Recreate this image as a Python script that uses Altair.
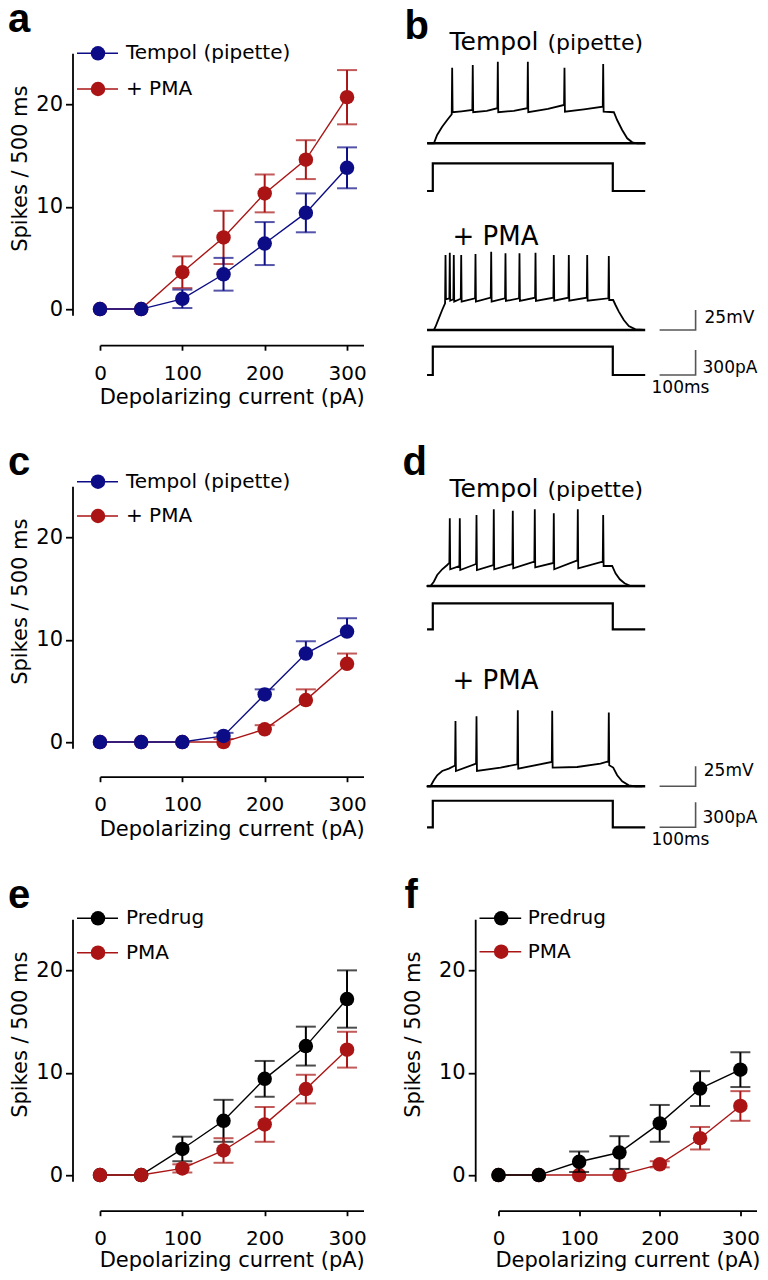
import altair as alt
import pandas as pd

FONT = "DejaVu Sans"
LETTER_FONT = "Liberation Sans"
BLUE = "#0c0c86"
RED = "#aa1414"
BLACK = "#000000"

# ---------------- values ----------------
CURRENT_PA = [0, 50, 100, 150, 200, 250, 300]
X_TICKS = [0, 100, 200, 300]
Y_TICKS = [0, 10, 20]
X_TITLE = "Depolarizing current (pA)"
Y_TITLE = "Spikes / 500 ms"

A_LABELS = ["Tempol (pipette)", "+ PMA"]
A_TEMPOL = [0, 0, 1.0, 3.4, 6.4, 9.4, 13.8]
A_TEMPOL_SEM = [0, 0, 0.9, 1.6, 2.1, 1.9, 2.0]
A_PMA = [0, 0, 3.6, 7.0, 11.3, 14.6, 20.7]
A_PMA_SEM = [0, 0, 1.55, 2.6, 1.85, 1.9, 2.65]

C_LABELS = ["Tempol (pipette)", "+ PMA"]
C_TEMPOL = [0, 0, 0, 0.6, 4.65, 8.65, 10.8]
C_TEMPOL_SEM = [0, 0, 0, 0.3, 0.5, 1.2, 1.3]
C_PMA = [0, 0, 0, 0, 1.25, 4.1, 7.65]
C_PMA_SEM = [0, 0, 0, 0.3, 0.4, 1.05, 1.0]

E_LABELS = ["Predrug", "PMA"]
E_PREDRUG = [0, 0, 2.55, 5.3, 9.4, 12.6, 17.2]
E_PREDRUG_SEM = [0, 0, 1.2, 2.05, 1.75, 1.9, 2.8]
E_PMA = [0, 0, 0.65, 2.4, 4.95, 8.4, 12.25]
E_PMA_SEM = [0, 0, 0.4, 1.2, 1.7, 1.4, 1.75]

F_LABELS = ["Predrug", "PMA"]
F_PREDRUG = [0, 0, 1.3, 2.2, 5.05, 8.45, 10.3]
F_PREDRUG_SEM = [0, 0, 1.0, 1.6, 1.8, 1.7, 1.7]
F_PMA = [0, 0, 0, 0, 1.05, 3.6, 6.75]
F_PMA_SEM = [0, 0, 0, 0, 0.3, 1.1, 1.45]

# current-clamp traces (ms, mV, pA)
REST_MV = -65
STEP_ON_MS, STEP_OFF_MS = 0, 500
TRACE_START_MS, TRACE_END_MS = -16, 590
TRACE_TITLE_1 = "Tempol"
TRACE_TITLE_1B = "(pipette)"
TRACE_TITLE_2 = "+ PMA"
SCALE_MS, SCALE_MV, SCALE_PA = 100, 25, 300
SCALE_LABELS = ["25mV", "300pA", "100ms"]

B_TOP_SHAPE_T = [-14, 3, 12, 26, 40, 80, 150, 225, 320, 420, 503, 512, 526, 540, 554, 568, 591]
B_TOP_SHAPE_V = [-65, -65, -54.6, -44.3, -35.9, -25, -24.5, -24.5, -22, -22.5, -26.2, -35.9, -48.4, -58.8, -63.8, -65, -65]
B_TOP_SPIKE_T = [53.8, 111, 180.6, 264, 365.8, 473.3]
B_TOP_SPIKE_PEAK = [29.5, 32.9, 37, 37, 29.5, 34.1]
B_TOP_SPIKE_PRE = [-28.7, -23.4, -21.2, -21.2, -17.1, -19.2]
B_TOP_SPIKE_POST = [-26.2, -26.2, -26.2, -26.2, -25.5, -25.5]

B_BOT_SHAPE_T = [-14, 3, 7.5, 16.7, 26, 501, 507.5, 516.7, 530.6, 544.4, 563, 586]
B_BOT_SHAPE_V = [-65, -65, -60.9, -50.4, -40, -27.5, -33.75, -42, -52.5, -60, -64.2, -65]
B_BOT_SPIKE_T = [35.3, 47.2, 58.3, 78.9, 118.6, 162.2, 201.9, 240.8, 285.3, 336.1, 377.8, 428.9, 488.9]
B_BOT_SPIKE_PEAK = [28.75, 31.6, 28.75, 28.75, 30, 32.9, 30.9, 30.9, 31.6, 28.75, 28.75, 28.75, 27.5]
B_BOT_SPIKE_PRE = [-31.6, -25.4, -26.6, -25.9, -25.4, -24.6, -25.4, -25.4, -24.6, -24.6, -24.6, -24.6, -25.4]
B_BOT_SPIKE_POST = [-26.6, -28.4, -29.6, -29.6, -29.6, -29.6, -28.75, -28.75, -28.75, -28.4, -28.4, -28.4, -27.5]

D_TOP_SHAPE_T = [-17.5, -6.4, 2.8, 12.2, 26.1, 40, 498.3, 507.5, 519.4, 532.5, 549.2, 586]
D_TOP_SHAPE_V = [-65, -65, -59.6, -51.25, -44.1, -38.75, -40, -49.1, -56.6, -61.6, -65, -65]
D_TOP_SPIKE_T = [47.2, 75, 121.4, 169.4, 222.2, 283.3, 336.1, 402.8, 473.3]
D_TOP_SPIKE_PEAK = [19.6, 19.6, 23.75, 30.9, 29.1, 30.9, 25.9, 30.9, 23.75]
D_TOP_SPIKE_PRE = [-35.9, -40, -37.5, -38.75, -37.5, -34.6, -36.25, -32.9, -34.6]
D_TOP_SPIKE_POST = [-44.1, -45, -45, -44.1, -42.9, -41.6, -44.1, -42.9, -40]

D_BOT_SHAPE_T = [-17.5, -6.4, 2.8, 12.2, 26.1, 44.5, 188, 401.1, 465.8, 501.1, 512.2, 526.1, 544.4, 563, 582]
D_BOT_SHAPE_V = [-65, -65, -57.5, -51.25, -45.9, -42.9, -41.6, -40.9, -36.6, -41.6, -51.25, -58.75, -63.75, -65, -65]
D_BOT_SPIKE_T = [63, 121.4, 236.1, 331.7, 488.9]
D_BOT_SPIKE_PEAK = [16.6, 22.5, 30, 29.4, 27.1]
D_BOT_SPIKE_PRE = [-39.1, -36.6, -37.5, -34.6, -33.75]
D_BOT_SPIKE_POST = [-45.9, -45.9, -42.9, -41.6, -38.75]

B_STEP_PA = [332, 340]
D_STEP_PA = [312, 319]

# ---------------- layout (pixels) ----------------
W1, WF, H = 263.5, 258, 262
ROW_SP, COL_SP = 171, 134.5
X_DOMAIN = [0, 320]
Y_DOMAIN = [-0.6, 25]
PX_PER_MS, PX_PER_MV, PX_PER_PA = 0.36, 0.8, 25 / 300
PA_TO_U = PX_PER_PA / PX_PER_MV
T_LEFT = 182.5
SPIKE_HALF = 1.2
SCALEBAR_T0 = 630
DX = 5  # right column sits 5 px further left than in the original


def curve_panel(letter, letter_xy, series_draw, legend_entries, legend_geom,
                width, x_off, y_off, ytitle_x, title_y=58.7, one_sided=False):
    xscale = alt.Scale(domain=X_DOMAIN, nice=False, zero=False)
    yscale = alt.Scale(domain=Y_DOMAIN, nice=False, zero=False)
    xaxis = alt.Axis(values=X_TICKS, offset=x_off, tickSize=5, labelFontSize=20,
                     labelPadding=13, labelFlush=False, labelOverlap=False,
                     title=X_TITLE, titleFontSize=21, titleBaseline="alphabetic",
                     titleY=title_y, grid=False)
    yaxis = alt.Axis(values=Y_TICKS, offset=y_off, tickSize=7, labelFontSize=21,
                     labelPadding=3, labelFlush=False, labelOverlap=False,
                     title=Y_TITLE, titleFontSize=21, titleAngle=270,
                     titleBaseline="alphabetic", titleAlign="center",
                     titleX=ytitle_x, titleY=115, grid=False)

    def X(f):
        return alt.X(f, type="quantitative", scale=xscale, axis=xaxis)

    def Y(f):
        return alt.Y(f, type="quantitative", scale=yscale, axis=yaxis)

    layers = []
    for mean, sem, color in series_draw:
        df = pd.DataFrame({"x": CURRENT_PA, "y": mean, "sem": sem})
        df["hi"] = df["y"] + df["sem"]
        df["lo"] = df["y"] if one_sided else df["y"] - df["sem"]
        dfe = df[df["sem"] > 0]
        layers.append(alt.Chart(df).mark_line(color=color, strokeWidth=1.4).encode(x=X("x"), y=Y("y")))
        layers.append(alt.Chart(dfe).mark_rule(color=color, strokeWidth=2).encode(x=X("x"), y=Y("lo"), y2="hi"))
        layers.append(alt.Chart(dfe).mark_tick(color=color, orient="horizontal", size=20, thickness=2).encode(x=X("x"), y=Y("hi")))
        if not one_sided:
            layers.append(alt.Chart(dfe).mark_tick(color=color, orient="horizontal", size=20, thickness=2).encode(x=X("x"), y=Y("lo")))
        layers.append(alt.Chart(df).mark_circle(color=color, size=210, opacity=1).encode(x=X("x"), y=Y("y")))

    for (label, color), ly in zip(legend_entries, legend_geom["ys"]):
        one = pd.DataFrame({"label": [label]})
        layers.append(alt.Chart(one).mark_rule(color=color, strokeWidth=1.5).encode(
            x=alt.value(legend_geom["x0"]), x2=alt.value(legend_geom["x1"]), y=alt.value(ly)))
        layers.append(alt.Chart(one).mark_circle(color=color, size=210, opacity=1).encode(
            x=alt.value(legend_geom["xm"]), y=alt.value(ly)))
        layers.append(alt.Chart(one).mark_text(align="left", baseline="middle", font=FONT,
                                               fontSize=20, color=BLACK).encode(
            x=alt.value(legend_geom["xt"]), y=alt.value(ly), text="label:N"))

    lt = pd.DataFrame({"letter": [letter]})
    layers.append(alt.Chart(lt).mark_text(align="left", baseline="alphabetic", font=LETTER_FONT,
                                          fontSize=40, fontWeight="bold", color=BLACK).encode(
        x=alt.value(letter_xy[0]), y=alt.value(letter_xy[1]), text="letter:N"))
    return alt.layer(*layers).properties(width=width, height=H)


def v_trace(name, st, sv, spt, spk, spre, spost, offset):
    pts = list(zip(st, sv))
    for t, pk, pre, post in zip(spt, spk, spre, spost):
        pts += [(t - SPIKE_HALF, pre), (t, pk), (t + SPIKE_HALF, post)]
    pts.sort(key=lambda p: p[0])
    return pd.DataFrame({"trace": name, "i": list(range(len(pts))),
                         "t": [p[0] for p in pts],
                         "u": [offset + (p[1] - REST_MV) for p in pts]})


def i_trace(name, amp, offset):
    t = [TRACE_START_MS, STEP_ON_MS, STEP_ON_MS, STEP_OFF_MS, STEP_OFF_MS, TRACE_END_MS]
    pa = [0, 0, amp, amp, 0, 0]
    return pd.DataFrame({"trace": name, "i": list(range(6)), "t": t,
                         "u": [offset + p * PA_TO_U for p in pa]})


def rest_trace(name, offset):
    return pd.DataFrame({"trace": name, "i": [0, 1], "t": [TRACE_START_MS, TRACE_END_MS],
                         "u": [offset, offset]})


def trace_panel(letter, letter_xy, vtraces, steps, offs, texts):
    xs = alt.Scale(domain=[T_LEFT, T_LEFT + W1 / PX_PER_MS], nice=False, zero=False)
    ys = alt.Scale(domain=[0, H / PX_PER_MV], nice=False, zero=False)
    enc = dict(x=alt.X("t:Q", scale=xs, axis=None), y=alt.Y("u:Q", scale=ys, axis=None),
               detail="trace:N", order="i:Q")

    vdf = pd.concat([v_trace(f"v{k}", *vt, offs[k][0]) for k, vt in enumerate(vtraces)])
    rdf = pd.concat([rest_trace(f"r{k}", offs[k][0]) for k in range(2)])
    idf = pd.concat([i_trace(f"i{k}", steps[k], offs[k][1]) for k in range(2)])
    v2, i2 = offs[1]
    bars = pd.DataFrame({
        "trace": ["mv"] * 3 + ["pa"] * 3, "i": [0, 1, 2] * 2,
        "t": [SCALEBAR_T0, SCALEBAR_T0 + SCALE_MS, SCALEBAR_T0 + SCALE_MS] * 2,
        "u": [v2, v2, v2 + SCALE_MV, i2, i2, i2 + SCALE_PA * PA_TO_U]})

    layers = [
        alt.Chart(rdf).mark_line(color=BLACK, strokeWidth=2.6).encode(**enc),
        alt.Chart(vdf).mark_line(color=BLACK, strokeWidth=1.8).encode(**enc),
        alt.Chart(idf).mark_line(color=BLACK, strokeWidth=2.2).encode(**enc),
        alt.Chart(bars).mark_line(color="#555555", strokeWidth=1.6).encode(**enc),
    ]
    for txt, (tx, ty, size, base) in texts.items():
        one = pd.DataFrame({"s": [txt]})
        layers.append(alt.Chart(one).mark_text(align="left", baseline=base, font=FONT,
                                               fontSize=size, color=BLACK).encode(
            x=alt.value(tx + DX), y=alt.value(ty), text="s:N"))
    lt = pd.DataFrame({"letter": [letter]})
    layers.append(alt.Chart(lt).mark_text(align="left", baseline="alphabetic", font=LETTER_FONT,
                                          fontSize=40, fontWeight="bold", color=BLACK).encode(
        x=alt.value(letter_xy[0] + DX), y=alt.value(letter_xy[1]), text="letter:N"))
    return alt.layer(*layers).properties(width=W1, height=H)


LEG_AC = dict(x0=-23, x1=18, xm=-2, xt=26)
LEG_F = dict(x0=-24 + DX, x1=17.7 + DX, xm=-2.3 + DX, xt=24.3 + DX)

panel_a = curve_panel("a", (-92, -21.2),
                      [(A_PMA, A_PMA_SEM, RED), (A_TEMPOL, A_TEMPOL_SEM, BLUE)],
                      list(zip(A_LABELS, [BLUE, RED])), dict(LEG_AC, ys=[0.1, 35.8]),
                      W1, 30, 27.5, -46)
panel_c = curve_panel("c", (-92, -11.2),
                      [(C_PMA, C_PMA_SEM, RED), (C_TEMPOL, C_TEMPOL_SEM, BLUE)],
                      list(zip(C_LABELS, [BLUE, RED])), dict(LEG_AC, ys=[-4.5, 29.8]),
                      W1, 28.5, 27.5, -46, one_sided=True)
panel_e = curve_panel("e", (-92, -11.2),
                      [(E_PREDRUG, E_PREDRUG_SEM, BLACK), (E_PMA, E_PMA_SEM, RED)],
                      list(zip(E_LABELS, [BLACK, RED])), dict(LEG_AC, ys=[-0.9, 33.5]),
                      W1, 29.5, 27.5, -46, title_y=56)
panel_f = curve_panel("f", (-99 + DX, -11.2),
                      [(F_PMA, F_PMA_SEM, RED), (F_PREDRUG, F_PREDRUG_SEM, BLACK)],
                      list(zip(F_LABELS, [BLACK, RED])), dict(LEG_F, ys=[-0.9, 32.5]),
                      WF, 29.5, 28.3 - DX, -56, title_y=56)

panel_b = trace_panel(
    "b", (-99, -14.2),
    [(B_TOP_SHAPE_T, B_TOP_SHAPE_V, B_TOP_SPIKE_T, B_TOP_SPIKE_PEAK, B_TOP_SPIKE_PRE, B_TOP_SPIKE_POST),
     (B_BOT_SHAPE_T, B_BOT_SHAPE_V, B_BOT_SPIKE_T, B_BOT_SPIKE_PEAK, B_BOT_SPIKE_PRE, B_BOT_SPIKE_POST)],
    B_STEP_PA, [(214.9, 155.25), (-18.5, -74.75)],
    {TRACE_TITLE_1: (-54, -3.2, 25, "alphabetic"),
     TRACE_TITLE_1B: (44, -3.2, 22, "alphabetic"),
     TRACE_TITLE_2: (-51, 191.8, 26, "alphabetic"),
     SCALE_LABELS[0]: (201, 264.8, 17, "middle"),
     SCALE_LABELS[1]: (199, 314.8, 17, "middle"),
     SCALE_LABELS[2]: (148, 334.8, 17, "middle")})

panel_d = trace_panel(
    "d", (-101, -11.2),
    [(D_TOP_SHAPE_T, D_TOP_SHAPE_V, D_TOP_SPIKE_T, D_TOP_SPIKE_PEAK, D_TOP_SPIKE_PRE, D_TOP_SPIKE_POST),
     (D_BOT_SHAPE_T, D_BOT_SHAPE_V, D_BOT_SPIKE_T, D_BOT_SPIKE_PEAK, D_BOT_SPIKE_PRE, D_BOT_SPIKE_POST)],
    D_STEP_PA, [(202.75, 148.6), (-47.6, -98.9)],
    {TRACE_TITLE_1: (-54, 10.5, 25, "alphabetic"),
     TRACE_TITLE_1B: (44, 10.5, 22, "alphabetic"),
     TRACE_TITLE_2: (-51, 203.1, 26, "alphabetic"),
     SCALE_LABELS[0]: (200.3, 284.5, 17, "middle"),
     SCALE_LABELS[1]: (199, 332.1, 17, "middle"),
     SCALE_LABELS[2]: (148, 353.8, 17, "middle")})

chart = alt.concat(panel_a, panel_b, panel_c, panel_d, panel_e, panel_f,
                   columns=2, spacing={"row": ROW_SP, "column": COL_SP},
                   bounds="flush").properties(
    autosize=alt.AutoSizeParams(type="none"),
    padding={"left": 92, "top": 45.2, "right": 660, "bottom": 1218.8},
    background="white",
).configure_view(stroke=None).configure_axis(
    domainColor=BLACK, tickColor=BLACK, labelColor=BLACK, titleColor=BLACK,
    domainWidth=1.8, tickWidth=1.8, labelFont=FONT, titleFont=FONT,
    titleFontWeight="normal", grid=False)

chart.save("out.html", embed_options={"renderer": "svg", "actions": False})
